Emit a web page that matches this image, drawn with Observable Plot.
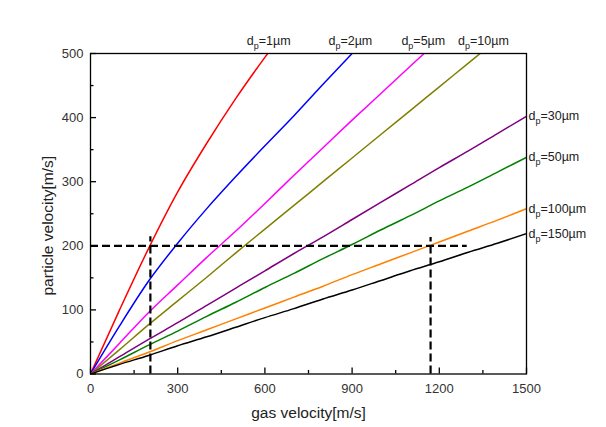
<!DOCTYPE html>
<html><head><meta charset="utf-8">
<script src="https://cdn.jsdelivr.net/npm/d3@7"></script>
<script src="https://cdn.jsdelivr.net/npm/@observablehq/plot@0.6"></script>
<style>
html,body{margin:0;padding:0;background:#fff;}
#chart svg{display:block;}
</style></head><body><div id="chart"></div>
<script>
// gas velocity sample points [m/s]
const gasVelocity = [0,100,200,300,400,500,600,700,800,900,1000,1100,1200,1300,1400,1500];
const sizes = ["1µm","2µm","5µm","10µm","30µm","50µm","100µm","150µm"];
const colors = ["#ff0000","#0000ff","#ff00ff","#808000","#800080","#008000","#ff8000","#000000"];
// particle velocity [m/s], one array per particle diameter
const dp1   = [0,100,196,284,360,430,494,554];
const dp2   = [0,75,145,204,258,308,356,403,452,500,548];
const dp5   = [0,48,96,139,182,223,266,310,353,396,438,480,522];
const dp10  = [0,38,77,114,151,189,226,263,300,337,374,411,448,485,522];
const dp30  = [0,27,54,80,107,134,161,188,214,241,268,295,322,348,375,402];
const dp50  = [0,22,45,67,90,112,135,157,180,202,225,247,270,292,315,338];
const dp100 = [0,17,34,52,69,86,103,120,137,155,172,189,206,223,240,258];
const dp150 = [0,15,29,44,58,73,88,102,117,131,146,161,175,190,204,219];
const series = [dp1,dp2,dp5,dp10,dp30,dp50,dp100,dp150];

// label placement
const topLabelSizes = ["1µm","2µm","5µm","10µm"];
const topLabelGas = [613,894,1145,1352];
const rightLabelSizes = ["30µm","50µm","100µm","150µm"];
const rightLabelParticle = [402,338,258,219];

// guide lines
const guideLevel = 200;
const guideEnd = 1296;
const guideGas = [206,1170];
const guideTop = [214,213];

// ticks
const xTicks = [0,300,600,900,1200,1500];
const xMinor = [150,450,750,1050,1350];
const yTicks = [0,100,200,300,400,500];
const yMinor = [50,150,250,350,450];

const rows = series.flatMap((vals, s) => vals.map((v, i) => ({gas: gasVelocity[i], particle: v, size: sizes[s]})));
const topLabels = topLabelSizes.map((s, i) => ({size: s, gas: topLabelGas[i]}));
const rightLabels = rightLabelSizes.map((s, i) => ({size: s, particle: rightLabelParticle[i]}));

const font = "'Liberation Sans', Arial, sans-serif";
const tickStyle = {stroke: "#000", strokeWidth: 1.3};
const chart = Plot.plot({
  width: 606, height: 427,
  marginLeft: 90, marginRight: 80, marginTop: 53, marginBottom: 53.5,
  style: {fontFamily: font, fontSize: "13px", background: "#fff", color: "#000", overflow: "visible"},
  x: {domain: [0,1500], label: null},
  y: {domain: [0,500], label: null},
  color: {domain: sizes, range: colors},
  marks: [
    Plot.line(rows, {x: "gas", y: "particle", z: "size", stroke: "size", strokeWidth: 1.5, curve: "monotone-x", clip: true}),
    Plot.ruleY([guideLevel], {x1: 0, x2: guideEnd, stroke: "#000", strokeWidth: 2.2, strokeDasharray: "8,4"}),
    Plot.ruleX(guideGas, {y1: 0, y2: (d, i) => guideTop[i], stroke: "#000", strokeWidth: 2.2, strokeDasharray: "8,4"}),
    Plot.frame({stroke: "#000", strokeWidth: 1.3}),
    // inward ticks
    Plot.ruleX(xTicks, {x: d => d, y1: 0, y2: 0, insetTop: -6, ...tickStyle}),
    Plot.ruleX(xMinor, {x: d => d, y1: 0, y2: 0, insetTop: -3.5, ...tickStyle}),
    Plot.ruleY(yTicks, {y: d => d, x1: 0, x2: 0, insetRight: -6, ...tickStyle}),
    Plot.ruleY(yMinor, {y: d => d, x1: 0, x2: 0, insetRight: -3.5, ...tickStyle}),
    Plot.axisX({ticks: xTicks, tickSize: 0, tickPadding: 10, tickFormat: d => String(d), fontSize: 13, fill: "#333", label: null}),
    Plot.axisY({ticks: yTicks, tickSize: 0, tickPadding: 7, tickFormat: d => String(d), fontSize: 13, fill: "#333", label: null}),
    Plot.text(topLabels, {x: "gas", y: 500, text: d => "dp=" + d.size, textAnchor: "middle", lineAnchor: "bottom", dy: -9, fontSize: 12.5, fill: "#222"}),
    Plot.text(rightLabels, {x: 1500, y: "particle", text: d => "dp=" + d.size, textAnchor: "start", lineAnchor: "bottom", dx: 2, dy: 4, fontSize: 12.5, fill: "#222"}),
    Plot.text(["gas velocity[m/s]"], {frameAnchor: "bottom", lineAnchor: "bottom", textAnchor: "middle", dy: 43.5, fontSize: 15.5, fill: "#222"}),
    Plot.text(["particle velocity[m/s]"], {frameAnchor: "left", lineAnchor: "bottom", textAnchor: "middle", rotate: -90, dx: -38, dy: 12, fontSize: 15.5, fill: "#222"})
  ]
});
document.getElementById("chart").appendChild(chart);

// subscript p in the d_p labels
d3.select(chart).selectAll("text").filter(function() {
  return this.textContent.startsWith("dp=");
}).each(function() {
  const rest = this.textContent.slice(2);
  const t = d3.select(this);
  t.text(null);
  t.append("tspan").text("d");
  t.append("tspan").attr("font-size", 9).attr("dy", 4).text("p");
  t.append("tspan").attr("dy", -4).text(rest);
});
</script>
</body></html>
